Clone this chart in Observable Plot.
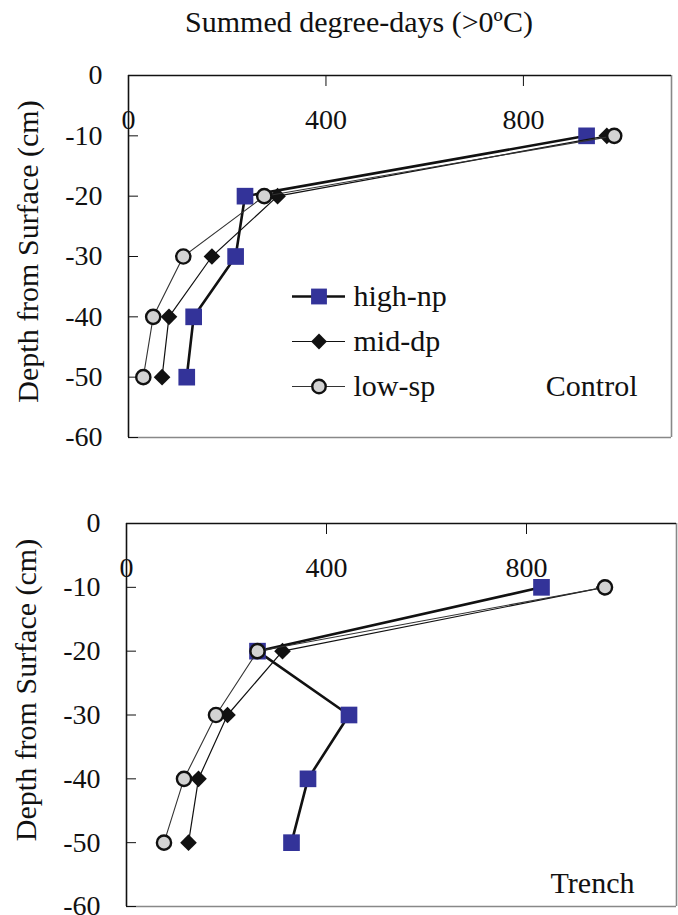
<!DOCTYPE html>
<html>
<head>
<meta charset="utf-8">
<script src="https://cdn.jsdelivr.net/npm/d3@7"></script>
<script src="https://cdn.jsdelivr.net/npm/@observablehq/plot@0.6"></script>
<style>
  body { margin: 0; background: #fff; font-family: "Liberation Serif", "Times New Roman", serif; color: #111; }
  #chart { position: relative; width: 678px; height: 915px; }
  #title { height: 50px; line-height: 44px; font-size: 30px; text-align: center; padding-left: 40px; box-sizing: border-box; }
  #chart svg { display: block; }
  #chart svg, #chart svg text { font-family: "Liberation Serif", "Times New Roman", serif !important; }
  .legend { position: absolute; }
</style>
</head>
<body>
<div id="chart"><div id="title">Summed degree-days (&gt;0ºC)</div></div>
<script>
// Soil depth of each sensor (cm below surface)
const depths = [-10, -20, -30, -40, -50];
const seriesNames = ["high-np", "mid-dp", "low-sp"];

// Summed degree-days above 0 °C at each depth, Control plots
const controlHigh = [928, 236, 217, 132, 118];
const controlMid  = [969, 302, 169, 82, 68];
const controlLow  = [984, 275, 111, 50, 30];

// Summed degree-days above 0 °C at each depth, Trench plots
const trenchHigh = [830, 262, 445, 363, 330];
const trenchMid  = [955, 312, 202, 144, 124];
const trenchLow  = [957, 262, 179, 115, 75];

const xTicks = [0, 400, 800];
const yTicks = [0, -10, -20, -30, -40, -50, -60];
const xDomain = [0, 1100];
const yDomain = [-60, 0];

const serif = "Liberation Serif, Times New Roman, serif";

// Line and marker style of each series
const styles = {
  "high-np": {lineStroke: "#111", lineWidth: 2.6, symbol: "square", r: 9.4, fill: "#333399", stroke: "none", strokeWidth: 0},
  "mid-dp":  {lineStroke: "#111", lineWidth: 1.2, symbol: "diamond2", r: 7.5, fill: "#111", stroke: "none", strokeWidth: 0},
  "low-sp":  {lineStroke: "#333", lineWidth: 1.1, symbol: "circle", r: 7.1, fill: "#d3d3d3", stroke: "#111", strokeWidth: 2.4}
};

function toRows(high, mid, low) {
  const bySeries = {"high-np": high, "mid-dp": mid, "low-sp": low};
  return seriesNames.flatMap(name => depths.map((depth, i) => ({series: name, depth, value: bySeries[name][i]})));
}

const fmt = d => String(d);
const baseStyle = {fontFamily: serif, fontSize: "28px", color: "#111", background: "white", overflow: "visible"};

function panel(rows, {name, height, marginTop, marginBottom, marginLeft, marginRight, nameDx, nameDy, yLabelDy}) {
  const seriesMarks = seriesNames.flatMap(name => {
    const s = styles[name];
    const data = rows.filter(d => d.series === name);
    return [
      Plot.line(data, {x: "value", y: "depth", stroke: s.lineStroke, strokeWidth: s.lineWidth}),
      Plot.dot(data, {x: "value", y: "depth", symbol: s.symbol, r: s.r, fill: s.fill, stroke: s.stroke, strokeWidth: s.strokeWidth})
    ];
  });
  return Plot.plot({
    width: 678,
    height,
    marginTop, marginBottom, marginLeft, marginRight,
    style: baseStyle,
    x: {domain: xDomain},
    y: {domain: yDomain},
    marks: [
      Plot.ruleX([xDomain[1]], {stroke: "#888", strokeWidth: 1.6}),
      Plot.ruleY([yDomain[0]], {stroke: "#888", strokeWidth: 1.6}),
      Plot.ruleX([xDomain[0]], {stroke: "#111", strokeWidth: 1.6}),
      Plot.ruleY([yDomain[1]], {stroke: "#111", strokeWidth: 1.6}),
      Plot.axisX({anchor: "top", ticks: xTicks, tickFormat: fmt, tickSize: -10, tickPadding: -35, lineAnchor: "middle", fontSize: 28, fontFamily: serif, label: null}),
      Plot.axisY({anchor: "left", ticks: yTicks, tickFormat: fmt, tickSize: -10, tickPadding: 36, fontSize: 28, fontFamily: serif, label: null}),
      ...seriesMarks,
      Plot.text([name], {text: d => d, frameAnchor: "bottom-right", textAnchor: "end", lineAnchor: "middle", dx: nameDx, dy: nameDy, fontSize: 30, fontFamily: serif}),
      Plot.text(["Depth from Surface (cm)"], {text: d => d, frameAnchor: "left", textAnchor: "middle", lineAnchor: "middle", rotate: -90, dx: -100, dy: yLabelDy, fontSize: 30, fontFamily: serif})
    ]
  });
}

const chart = document.getElementById("chart");

chart.append(panel(toRows(controlHigh, controlMid, controlLow), {
  name: "Control", height: 450, marginTop: 25, marginBottom: 63, marginLeft: 128, marginRight: 7,
  nameDx: -34, nameDy: -51, yLabelDy: -5
}));

chart.append(panel(toRows(trenchHigh, trenchMid, trenchLow), {
  name: "Trench", height: 415, marginTop: 23, marginBottom: 9, marginLeft: 126, marginRight: 2,
  nameDx: -42, nameDy: -23, yLabelDy: -25
}));

// Series key inside the Control panel
const legend = Plot.plot({
  width: 200, height: 115, margin: 0,
  style: {...baseStyle, background: "transparent"},
  y: {type: "point", domain: seriesNames, range: [10, 101], padding: 0, axis: null},
  marks: seriesNames.flatMap(name => {
    const s = styles[name];
    return [
      Plot.ruleY([name], {y: d => d, stroke: s.lineStroke, strokeWidth: s.lineWidth, insetRight: 147}),
      Plot.dot([name], {y: d => d, frameAnchor: "left", dx: 26.5, symbol: s.symbol, r: s.r * 0.95, fill: s.fill, stroke: s.stroke, strokeWidth: s.strokeWidth}),
      Plot.text([name], {y: d => d, text: d => d, frameAnchor: "left", dx: 61, textAnchor: "start", fontSize: 30, fontFamily: serif})
    ];
  })
});
legend.classList.add("legend");
legend.style.left = "292px";
legend.style.top = "285px";
chart.append(legend);
</script>
</body>
</html>
